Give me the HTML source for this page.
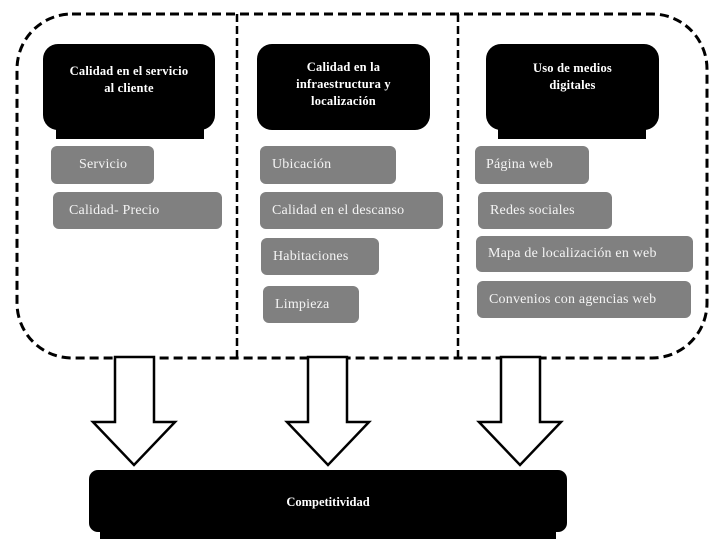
<!DOCTYPE html>
<html><head><meta charset="utf-8"><style>
body{margin:0;width:715px;height:554px;background:#fff;position:relative;overflow:hidden;font-family:"Liberation Serif",serif}
.a{position:absolute}
.bk{position:absolute;background:#000;border-radius:15px;color:#fff;font-weight:bold;font-size:12.5px;text-align:center;display:flex;align-items:center;justify-content:center;line-height:17px;letter-spacing:0.2px}
.g{position:absolute;background:#808080;border-radius:6px;color:#f4f4f4;font-size:14px;display:flex;align-items:center;box-sizing:border-box;padding-left:12px;letter-spacing:0.2px}
</style></head><body>
<svg class="a" style="left:0;top:0" width="715" height="554">
<rect x="17" y="14" width="690" height="344" rx="55" ry="55" fill="none" stroke="#000" stroke-width="3" stroke-dasharray="9,5"/>
<line x1="237" y1="14" x2="237" y2="358" stroke="#000" stroke-width="2.5" stroke-dasharray="8,4"/>
<line x1="458" y1="14" x2="458" y2="358" stroke="#000" stroke-width="2.5" stroke-dasharray="8,4"/>
<g fill="#fff" stroke="#000" stroke-width="2.5">
<polygon points="115,357 154,357 154,422 175,422 134,465 93,422 115,422"/>
<polygon points="308,357 347,357 347,422 369,422 328,465 287,422 308,422"/>
<polygon points="501,357 540,357 540,422 561,422 520,465 479,422 501,422"/>
</g>
<rect x="100" y="500" width="456" height="39" fill="#000"/>
<rect x="89" y="470" width="478" height="62" rx="9" fill="#000"/>
<text x="328" y="506" fill="#fff" font-family="Liberation Serif" font-weight="bold" font-size="12.5" text-anchor="middle">Competitividad</text>
<rect x="56" y="110" width="148" height="29" fill="#000"/>
<rect x="498" y="110" width="148" height="29" fill="#000"/>
</svg>
<div class="bk" style="left:43px;top:44px;width:172px;height:86px;padding-bottom:14px;box-sizing:border-box">Calidad en el servicio<br>al cliente</div>
<div class="bk" style="left:257px;top:44px;width:173px;height:86px;padding-bottom:6px;box-sizing:border-box">Calidad en la<br>infraestructura y<br>localización</div>
<div class="bk" style="left:486px;top:44px;width:173px;height:86px;padding-bottom:20px;box-sizing:border-box">Uso de medios<br>digitales</div>
<div class="g" style="left:51px;top:146px;width:103px;height:38px;padding-left:28px">Servicio</div>
<div class="g" style="left:53px;top:192px;width:169px;height:37px;padding-left:16px">Calidad- Precio</div>
<div class="g" style="left:260px;top:146px;width:136px;height:38px">Ubicación</div>
<div class="g" style="left:260px;top:192px;width:183px;height:37px">Calidad en el descanso</div>
<div class="g" style="left:261px;top:238px;width:118px;height:37px">Habitaciones</div>
<div class="g" style="left:263px;top:286px;width:96px;height:37px">Limpieza</div>
<div class="g" style="left:475px;top:146px;width:114px;height:38px;padding-left:11px">Página web</div>
<div class="g" style="left:478px;top:192px;width:134px;height:37px;padding-left:12px">Redes sociales</div>
<div class="g" style="left:476px;top:236px;width:217px;height:36px">Mapa de localización en web</div>
<div class="g" style="left:477px;top:281px;width:214px;height:37px">Convenios con agencias web</div>
</body></html>
